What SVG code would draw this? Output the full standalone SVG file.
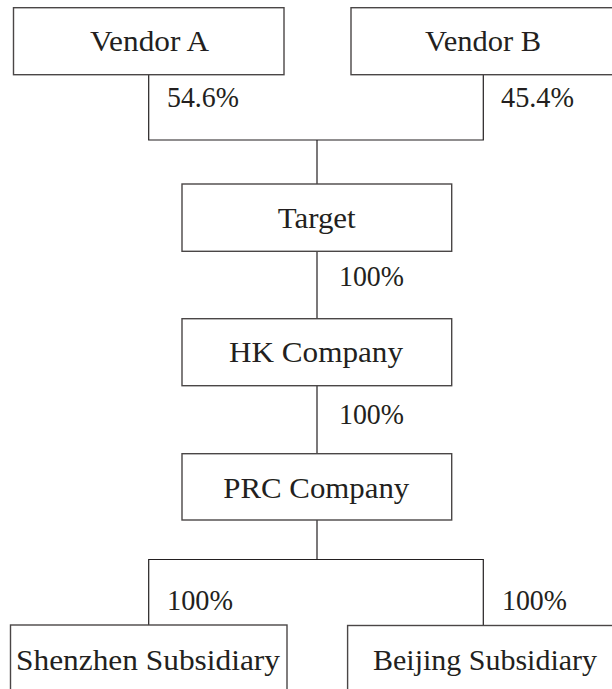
<svg xmlns="http://www.w3.org/2000/svg" width="612" height="689" viewBox="0 0 612 689">
  <style>
    .box { fill: #ffffff; stroke: #4a4646; stroke-width: 1.4; }
    .wire { fill: none; stroke: #231f20; stroke-width: 1.2; }
    .lbl { font-family: "Liberation Serif", "Times New Roman", serif; font-size: 30px; fill: #231f20; }
  </style>
  <rect width="612" height="689" fill="#ffffff"/>

  <!-- ownership connectors -->
  <g id="connectors" class="wire">
    <path d="M148.7,74.7 V140 H483.3 V74.7"/>
    <path d="M317,140 V184"/>
    <path d="M317,251.3 V318.7"/>
    <path d="M317,385.7 V453.7"/>
    <path d="M317,520 V559.5"/>
    <path d="M148.7,625 V559.5 H483.3 V625"/>
  </g>

  <!-- share percentages -->
  <g id="percentages" class="lbl">
    <text x="167" y="107" textLength="72" lengthAdjust="spacingAndGlyphs">54.6%</text>
    <text x="501" y="107" textLength="73" lengthAdjust="spacingAndGlyphs">45.4%</text>
    <text x="339" y="285.7" textLength="65" lengthAdjust="spacingAndGlyphs">100%</text>
    <text x="339" y="424" textLength="65" lengthAdjust="spacingAndGlyphs">100%</text>
    <text x="167" y="610" textLength="66" lengthAdjust="spacingAndGlyphs">100%</text>
    <text x="502" y="610" textLength="65" lengthAdjust="spacingAndGlyphs">100%</text>
  </g>

  <g id="vendor-a">
    <rect class="box" x="13.5" y="7.7" width="270.5" height="67"/>
    <text class="lbl" x="90" y="51" textLength="119" lengthAdjust="spacingAndGlyphs">Vendor A</text>
  </g>

  <g id="vendor-b">
    <rect class="box" x="351" y="7.7" width="270" height="67"/>
    <text class="lbl" x="425" y="51" textLength="116" lengthAdjust="spacingAndGlyphs">Vendor B</text>
  </g>

  <g id="target">
    <rect class="box" x="182" y="184" width="269.7" height="67.3"/>
    <text class="lbl" x="277.7" y="227.7" textLength="78" lengthAdjust="spacingAndGlyphs">Target</text>
  </g>

  <g id="hk-company">
    <rect class="box" x="182" y="318.7" width="269.7" height="67"/>
    <text class="lbl" x="229" y="362.3" textLength="174" lengthAdjust="spacingAndGlyphs">HK Company</text>
  </g>

  <g id="prc-company">
    <rect class="box" x="182" y="453.7" width="269.7" height="66.3"/>
    <text class="lbl" x="223.3" y="497.5" textLength="186" lengthAdjust="spacingAndGlyphs">PRC Company</text>
  </g>

  <g id="shenzhen-subsidiary">
    <rect class="box" x="10.5" y="625" width="276.5" height="80"/>
    <text class="lbl" x="16" y="670" textLength="264" lengthAdjust="spacingAndGlyphs">Shenzhen Subsidiary</text>
  </g>

  <g id="beijing-subsidiary">
    <rect class="box" x="347.6" y="625.5" width="280" height="80"/>
    <text class="lbl" x="373" y="670" textLength="224" lengthAdjust="spacingAndGlyphs">Beijing Subsidiary</text>
  </g>
</svg>
